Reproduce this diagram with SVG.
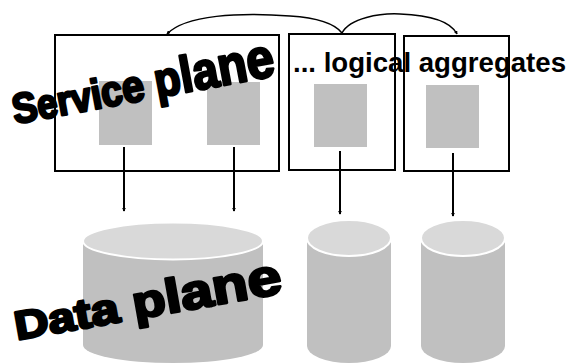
<svg xmlns="http://www.w3.org/2000/svg" width="568" height="363" viewBox="0 0 568 363">
  <style>
    .frame { fill: none; stroke: #000; stroke-width: 2; }
    .unit { fill: #c0c0c0; }
    .link { fill: none; stroke: #000; stroke-width: 2; }
    .arc { fill: none; stroke: #000; stroke-width: 1.5; }
    .body { fill: #c0c0c0; }
    .lid { fill: #d9d9d9; stroke: #fff; stroke-width: 2; }
    .word { font-family: "Liberation Sans", Arial, sans-serif; font-weight: bold; fill: #000; stroke: #000; stroke-width: 2.6; stroke-linejoin: round; }
    .label { font-family: "Liberation Sans", Arial, sans-serif; font-weight: bold; font-size: 27px; fill: #000; }
  </style>
  <defs>
    <marker id="tip" viewBox="0 0 6 6" refX="5" refY="3" markerWidth="4" markerHeight="4" orient="auto" markerUnits="userSpaceOnUse">
      <path d="M0,0 L6,3 L0,6 Z" fill="#000"/>
    </marker>
  </defs>

  <rect width="568" height="363" fill="#fff"/>

  <!-- service containers -->
  <g id="service-box">
    <rect class="frame" x="55" y="35" width="224" height="136"/>
    <rect class="unit" x="99" y="81" width="53" height="64"/>
    <rect class="unit" x="207" y="82" width="53" height="63"/>
  </g>
  <g id="aggregate-box-1">
    <rect class="frame" x="289" y="34" width="106" height="136" stroke-width="2.5"/>
    <rect class="unit" x="314" y="84" width="53" height="63"/>
  </g>
  <g id="aggregate-box-2">
    <rect class="frame" x="404" y="36" width="105" height="135"/>
    <rect class="unit" x="426" y="85" width="53" height="63"/>
  </g>

  <!-- data stores -->
  <g id="store-main">
    <path class="body" d="M83,241 L83,345 A90,18 0 0 0 263,345 L263,241 Z"/>
    <ellipse class="lid" cx="173" cy="241" rx="90" ry="18.5"/>
  </g>
  <g id="store-2">
    <path class="body" d="M307,238 L307,346 A42,17 0 0 0 391,346 L391,238 Z"/>
    <ellipse class="lid" cx="349" cy="238" rx="42" ry="18"/>
  </g>
  <g id="store-3">
    <path class="body" d="M421,238 L421,346 A42,17 0 0 0 505,346 L505,238 Z"/>
    <ellipse class="lid" cx="463" cy="238" rx="42" ry="18"/>
  </g>

  <!-- connectors -->
  <g id="connectors">
    <path class="link" d="M124,147 V211" marker-end="url(#tip)"/>
    <path class="link" d="M234,147 V211" marker-end="url(#tip)"/>
    <path class="link" d="M340,151 V214" marker-end="url(#tip)"/>
    <path class="link" d="M453,153 V216" marker-end="url(#tip)"/>
    <path class="arc" d="M342,33 C335,24 320,18 290,16 C240,12 185,15 167,34" marker-end="url(#tip)"/>
    <path class="arc" d="M342,33 C350,18 380,13 400,14 C425,15 450,20 457,34" marker-end="url(#tip)"/>
  </g>

  <!-- plane titles -->
  <g id="title-service">
    <text class="word" transform="translate(15,124) rotate(-10.5) scale(0.89,1)"><tspan font-size="42">S</tspan><tspan font-size="41">erv</tspan><tspan font-size="42">i</tspan><tspan font-size="43">c</tspan><tspan font-size="45">e </tspan><tspan font-size="48">p</tspan><tspan font-size="51">l</tspan><tspan font-size="52">a</tspan><tspan font-size="54">n</tspan><tspan font-size="56">e</tspan></text>
  </g>
  <g id="title-aggregates">
    <text class="label" x="293" y="72" textLength="273" lengthAdjust="spacingAndGlyphs">... logical aggregates</text>
  </g>
  <g id="title-data">
    <text class="word" transform="translate(17,340) rotate(-10) scale(1.18,1)"><tspan font-size="40">D</tspan><tspan font-size="41">a</tspan><tspan font-size="42">t</tspan><tspan font-size="43">a </tspan><tspan font-size="46">p</tspan><tspan font-size="48">l</tspan><tspan font-size="49">a</tspan><tspan font-size="50">n</tspan><tspan font-size="52">e</tspan></text>
  </g>
</svg>
